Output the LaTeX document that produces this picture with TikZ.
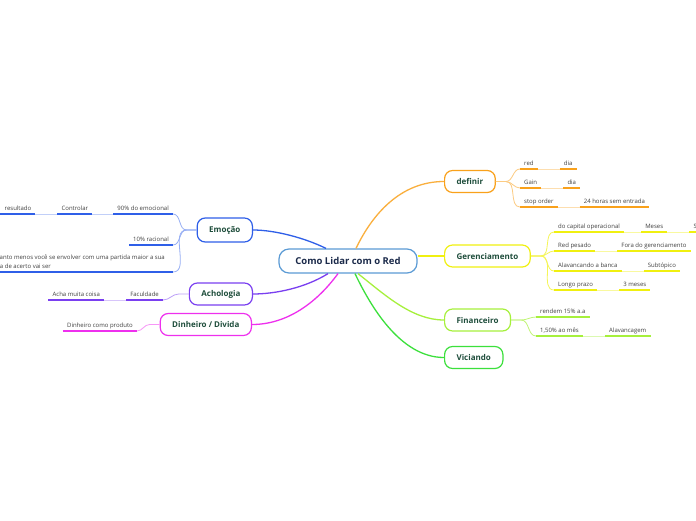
\documentclass[tikz,border=0pt]{standalone}
\usepackage{fontspec}
\setmainfont{Open Sans}
\usepackage{xcolor}
\usepackage{tikz}
\usetikzlibrary{calc, positioning}
\definecolor{cRoot}{HTML}{5B9BD5}
\definecolor{cRootText}{HTML}{1B2A4A}
\definecolor{cTopicText}{HTML}{1E4D3B}
\definecolor{cBlue}{HTML}{2F5FE8}
\definecolor{cOrange}{HTML}{F9A11B}
\definecolor{cYellow}{HTML}{F0F010}
\definecolor{cLime}{HTML}{A6F03C}
\definecolor{cGreen}{HTML}{3CE03C}
\definecolor{cPurple}{HTML}{7A3FF0}
\definecolor{cMagenta}{HTML}{EE30EE}
\tikzset{
    root/.style={rectangle, rounded corners=10pt, draw=cRoot, line width=1.2pt, fill=white, minimum width=138pt, minimum height=24pt, font=\fontsize{9.5}{11}\selectfont\bfseries, text=cRootText},
    topic/.style={rectangle, rounded corners=8pt, line width=1.2pt, fill=white, minimum height=22pt, inner xsep=12pt, font=\fontsize{8}{9}\selectfont\bfseries, text=cTopicText},
    leaf/.style={inner xsep=4pt, inner ysep=2.5pt, text depth=1.2pt, font=\fontsize{6}{7}\selectfont, text=black!75},
    branch/.style={line width=1.3pt},
    twig/.style={line width=0.8pt},
    ul/.style={line width=1.6pt}
}

\begin{document}
\begin{tikzpicture}[x=1pt, y=-1pt]
    % Canvas
    \fill[white] (0,0) rectangle (696,520);
    \useasboundingbox (0,0) rectangle (696,520);

    % Central topic
    \node[root] (c) at (348,261) {Como Lidar com o Red};

    % Main topics
    \node[topic, draw=cOrange, anchor=west] (d) at (444,181.5) {definir};
    \node[topic, draw=cYellow, anchor=west] (g) at (444,256) {Gerenciamento};
    \node[topic, draw=cLime, anchor=west] (f) at (444,320) {Financeiro};
    \node[topic, draw=cGreen, anchor=west] (v) at (444,357.5) {Viciando};
    \node[topic, draw=cBlue, anchor=east, minimum height=24pt] (e) at (253,230) {Emoção};
    \node[topic, draw=cPurple, anchor=east] (a) at (253,294) {Achologia};
    \node[topic, draw=cMagenta, anchor=east] (dv) at (252,324.5) {Dinheiro / Divida};

    % Branches
    \draw[branch, cOrange!85] ($(c.north)+(8,0)$) .. controls (372,215) and (400,181.5) .. (d.west);
    \draw[branch, cYellow] ($(c.east)+(0,-5)$) -- (g.west);
    \draw[branch, cLime] ($(c.south)+(10,0)$) .. controls (385,295) and (412,320) .. (f.west);
    \draw[branch, cGreen] ($(c.south)+(7,0)$) .. controls (370,305) and (400,357.5) .. (v.west);
    \draw[branch, cBlue] ($(c.north)+(-22,0)$) .. controls (305,238) and (275,230) .. (e.east);
    \draw[branch, cPurple] ($(c.south)+(-20,0)$) .. controls (305,288) and (275,294) .. (a.east);
    \draw[branch, cMagenta] ($(c.south)+(-10,0)$) .. controls (315,305) and (285,324.5) .. (dv.east);

    % definir
    \node[leaf, anchor=south west] (d1) at (520,169) {red};
    \node[leaf, right=22pt of d1.south east, anchor=south west] (d1a) {dia};
    \node[leaf, anchor=south west] (d2) at (520,188) {Gain};
    \node[leaf, right=22pt of d2.south east, anchor=south west] (d2a) {dia};
    \node[leaf, anchor=south west] (d3) at (520,207) {stop order};
    \node[leaf, right=22pt of d3.south east, anchor=south west] (d3a) {24 horas sem entrada};
    \foreach \n in {d1,d2,d3} \draw[twig, cOrange!55] (d.east) -- ++(10,0) to[out=0, in=180] (\n.south west);
    \foreach \x/\y in {d1/d1a,d2/d2a,d3/d3a} \draw[twig, cOrange!35] (\x.south east) -- (\y.south west);
    \foreach \n in {d1,d1a,d2,d2a,d3,d3a} \draw[ul, cOrange] (\n.south west) -- (\n.south east);

    % Gerenciamento
    \node[leaf, anchor=south west] (g1) at (554,232) {do capital operacional};
    \node[leaf, right=17pt of g1.south east, anchor=south west] (g1a) {Meses};
    \node[leaf, right=22pt of g1a.south east, anchor=south west] (g1b) {Semestre};
    \node[leaf, anchor=south west] (g2) at (554,251) {Red pesado};
    \node[leaf, right=22pt of g2.south east, anchor=south west] (g2a) {Fora do gerenciamento};
    \node[leaf, anchor=south west] (g3) at (554,271) {Alavancando a banca};
    \node[leaf, right=22pt of g3.south east, anchor=south west] (g3a) {Subtópico};
    \node[leaf, anchor=south west] (g4) at (554,290) {Longo prazo};
    \node[leaf, right=22pt of g4.south east, anchor=south west] (g4a) {3 meses};
    \foreach \n in {g1,g2,g3,g4} \draw[twig, cYellow!70] (g.east) -- ++(10,0) to[out=0, in=180] (\n.south west);
    \foreach \x/\y in {g1/g1a,g1a/g1b,g2/g2a,g3/g3a,g4/g4a} \draw[twig, cYellow!40] (\x.south east) -- (\y.south west);
    \foreach \n in {g1,g1a,g1b,g2,g2a,g3,g3a,g4,g4a} \draw[ul, cYellow] (\n.south west) -- (\n.south east);

    % Financeiro
    \node[leaf, anchor=south west] (f1) at (536,317) {rendem 15\% a.a};
    \node[leaf, anchor=south west] (f2) at (536,336) {1,50\% ao mês};
    \node[leaf, right=22pt of f2.south east, anchor=south west] (f2a) {Alavancagem};
    \foreach \n in {f1,f2} \draw[twig, cLime!70] (f.east) -- ++(10,0) to[out=0, in=180] (\n.south west);
    \draw[twig, cLime!40] (f2.south east) -- (f2a.south west);
    \foreach \n in {f1,f2,f2a} \draw[ul, cLime] (\n.south west) -- (\n.south east);

    % Emocao
    \node[leaf, anchor=south east] (e1) at (173,214) {90\% do emocional};
    \node[leaf, left=21pt of e1.south west, anchor=south east] (e1a) {Controlar};
    \node[leaf, left=22pt of e1a.south west, anchor=south east] (e1b) {resultado};
    \coordinate[left=40pt of e1b.south west] (eOut);
    \node[leaf, anchor=south east] (e2) at (173,245) {10\% racional};
    \node[leaf, anchor=south east, align=left, inner xsep=8pt, font=\fontsize{6}{9}\selectfont] (e3) at (173,272) {Quanto menos você se envolver com uma partida maior a sua\\taxa de acerto vai ser};
    \foreach \n in {e1,e2,e3} \draw[twig, cBlue!50] (e.west) -- ++(-10,0) to[out=180, in=0] (\n.south east);
    \foreach \x/\y in {e1/e1a,e1a/e1b} \draw[twig, cBlue!30] (\x.south west) -- (\y.south east);
    \draw[twig, cBlue!30] (e1b.south west) -- (eOut);
    \foreach \n in {e1,e1a,e1b,e2,e3} \draw[ul, cBlue] (\n.south west) -- (\n.south east);

    % Achologia
    \node[leaf, anchor=south east] (a1) at (163,300) {Faculdade};
    \node[leaf, left=22pt of a1.south west, anchor=south east] (a1a) {Acha muita coisa};
    \draw[twig, cPurple!50] (a.west) -- ++(-10,0) to[out=180, in=0] (a1.south east);
    \draw[twig, cPurple!30] (a1.south west) -- (a1a.south east);
    \foreach \n in {a1,a1a} \draw[ul, cPurple] (\n.south west) -- (\n.south east);

    % Dinheiro / Divida
    \node[leaf, anchor=south east] (v1) at (137,331) {Dinheiro como produto};
    \draw[twig, cMagenta!50] (dv.west) -- ++(-10,0) to[out=180, in=0] (v1.south east);
    \draw[ul, cMagenta] (v1.south west) -- (v1.south east);
\end{tikzpicture}
\end{document}
